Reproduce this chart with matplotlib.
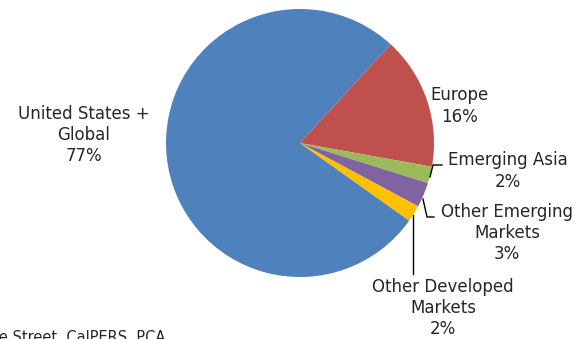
import matplotlib
matplotlib.use("Agg")
import matplotlib.pyplot as plt

# data
regions = ["United States +\nGlobal", "Europe", "Emerging Asia",
           "Other Emerging\nMarkets", "Other Developed\nMarkets"]
shares = [77, 16, 2, 3, 2]
colors = ["#4F81BD", "#C0504D", "#9BBB59", "#8064A2", "#FFC000"]

W, H = 577, 339
CX, CY, R = 300, 143, 134   # pie centre / radius in pixels


def px(x, y):
  # pixel (from top-left) -> data coords of the full-figure axes
  return (x - CX) / R, (CY - y) / R


fig = plt.figure(figsize=(W / 100, H / 100), dpi=100)
ax = fig.add_axes([0, 0, 1, 1])
ax.pie(shares, colors=colors, startangle=-35.4, counterclock=False,
       radius=1, center=(0, 0), wedgeprops=dict(linewidth=0))
ax.set_xlim(-CX / R, (W - CX) / R)
ax.set_ylim(-(H - CY) / R, CY / R)
ax.set_aspect("auto")
ax.axis("off")

txt = dict(ha="center", va="center", fontsize=12, color="#262626",
           family="DejaVu Sans", linespacing=1.24)
label_pos = [(84, 135), (460, 106), (508, 171), (507, 233), (443, 308)]
for name, pct, (lx, ly) in zip(regions, shares, label_pos):
  ax.text(*px(lx, ly), f"{name}\n{pct}%", **txt)

# leader lines
for pts in [[(430, 177), (433, 165), (442, 165)],
            [(423, 199), (427, 217), (434, 217)],
            [(413, 215), (413, 274)]]:
  xs, ys = zip(*[px(*p) for p in pts])
  ax.plot(xs, ys, color="black", lw=1)

ax.text(*px(165, 330), "Source: State Street, CalPERS, PCA", ha="right",
        va="top", fontsize=10.5, color="#262626")

fig.savefig("out.png", dpi=100)
